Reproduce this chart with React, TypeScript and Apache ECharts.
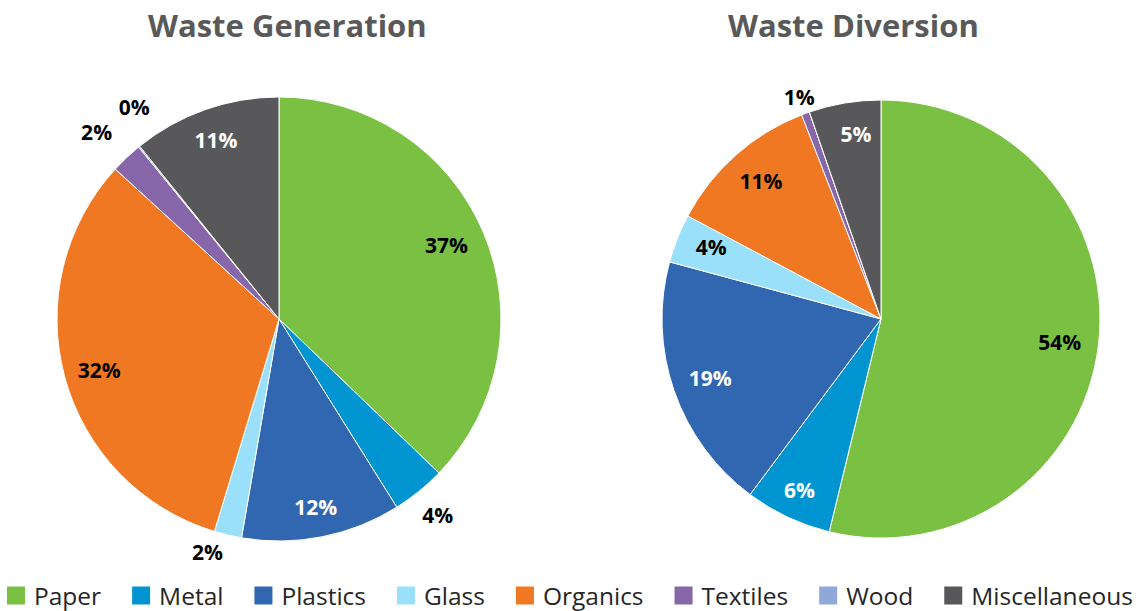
import React, { useEffect, useRef } from 'react';
import * as echarts from 'echarts';

const categories = ['Paper', 'Metal', 'Plastics', 'Glass', 'Organics', 'Textiles', 'Wood', 'Miscellaneous'];
const generationValues = [37.2, 3.9, 11.6, 2.0, 32.1, 2.3, 0.1, 10.8];
const diversionValues = [53.8, 6.4, 19.0, 3.6, 11.3, 0.6, 0, 5.3];
const titles = ['Waste Generation', 'Waste Diversion'];

const colors = ['#7AC143', '#0095D0', '#3067B0', '#9BE0FA', '#F07823', '#8767AA', '#8FA8D8', '#58585A'];

// label placement per slice: 'in' = inside ring, 'out' = outside ring, 'none' = hidden
const generationPlacement = ['in', 'out', 'in', 'out', 'in', 'out', 'out', 'in'];
const generationLabelColors = ['#000', '#000', '#fff', '#000', '#000', '#000', '#000', '#fff'];
const generationOffsets: number[][] = [[-7, 0], [-4, -5], [0, 2], [-12, -18], [3, 1], [-5, 1], [18, -11], [0, 0]];
const diversionPlacement = ['in', 'in', 'in', 'in', 'in', 'out', 'none', 'in'];
const diversionLabelColors = ['#000', '#fff', '#fff', '#000', '#000', '#000', '#000', '#fff'];
const diversionOffsets: number[][] = [[-7, 1], [-2, 2], [6, -2], [4, -3], [4, 2], [6, 17], [0, 0], [6, -1]];

const FONT = '"Open Sans", "Noto Sans", sans-serif';

function mainPie(values: number[], center: number[], r: number) {
  return {
    type: 'pie',
    center,
    radius: r,
    startAngle: 90,
    clockwise: true,
    silent: true,
    label: { show: false },
    labelLine: { show: false },
    emphasis: { disabled: true },
    itemStyle: { borderColor: '#ffffff', borderWidth: 1 },
    data: categories.map((name, i) => ({ name, value: values[i], itemStyle: { color: colors[i] } })),
  };
}

function labelRing(
  values: number[],
  center: number[],
  radius: number[],
  kind: string,
  placement: string[],
  labelColors: string[],
  offsets: number[][]
) {
  return {
    type: 'pie',
    center,
    radius,
    startAngle: 90,
    clockwise: true,
    silent: true,
    emphasis: { disabled: true },
    itemStyle: { color: 'rgba(0,0,0,0)', borderWidth: 0 },
    labelLine: { show: false },
    label: {
      show: true,
      position: 'inside',
      fontFamily: FONT,
      fontWeight: 'bold',
      fontSize: 21,
      formatter: (p: any) => Math.round(p.value) + '%',
    },
    data: categories.map((name, i) => ({
      name,
      value: values[i],
      itemStyle: { color: 'rgba(0,0,0,0)' },
      label: { show: placement[i] === kind, color: labelColors[i], offset: offsets[i] },
    })),
  };
}

export default function App() {
  const ref = useRef<HTMLDivElement>(null);
  useEffect(() => {
    document.body.style.margin = '0';
    if (!ref.current) return;
    const chart = echarts.init(ref.current, null, { renderer: 'svg' });
    const lc = [279, 319];
    const lr = 222;
    const rc = [881, 319];
    const rr = 219;
    chart.setOption({
      animation: false,
      backgroundColor: '#ffffff',
      title: [
        {
          text: titles[0],
          left: 143,
          top: 4,
          textStyle: { fontFamily: FONT, fontWeight: 'bold', fontSize: 31, color: '#595959' },
        },
        {
          text: titles[1],
          left: 723,
          top: 4,
          textStyle: { fontFamily: FONT, fontWeight: 'bold', fontSize: 31, color: '#595959' },
        },
      ],
      legend: {
        data: categories,
        left: 7,
        top: 583,
        padding: 0,
        itemWidth: 18,
        itemHeight: 18,
        itemGap: 31,
        icon: 'rect',
        selectedMode: false,
        itemStyle: { borderWidth: 0 },
        textStyle: { fontFamily: FONT, fontSize: 24.5, color: '#262626', padding: [0, 0, 0, 4] },
      },
      series: [
        mainPie(generationValues, lc, lr),
        mainPie(diversionValues, rc, rr),
        labelRing(generationValues, lc, [lr * 0.68, lr], 'in', generationPlacement, generationLabelColors, generationOffsets),
        labelRing(generationValues, lc, [lr, lr * 1.3], 'out', generationPlacement, generationLabelColors, generationOffsets),
        labelRing(diversionValues, rc, [rr * 0.68, rr], 'in', diversionPlacement, diversionLabelColors, diversionOffsets),
        labelRing(diversionValues, rc, [rr, rr * 1.3], 'out', diversionPlacement, diversionLabelColors, diversionOffsets),
      ],
    });
    return () => chart.dispose();
  }, []);
  return <div ref={ref} style={{ width: 1142, height: 611 }} />;
}
